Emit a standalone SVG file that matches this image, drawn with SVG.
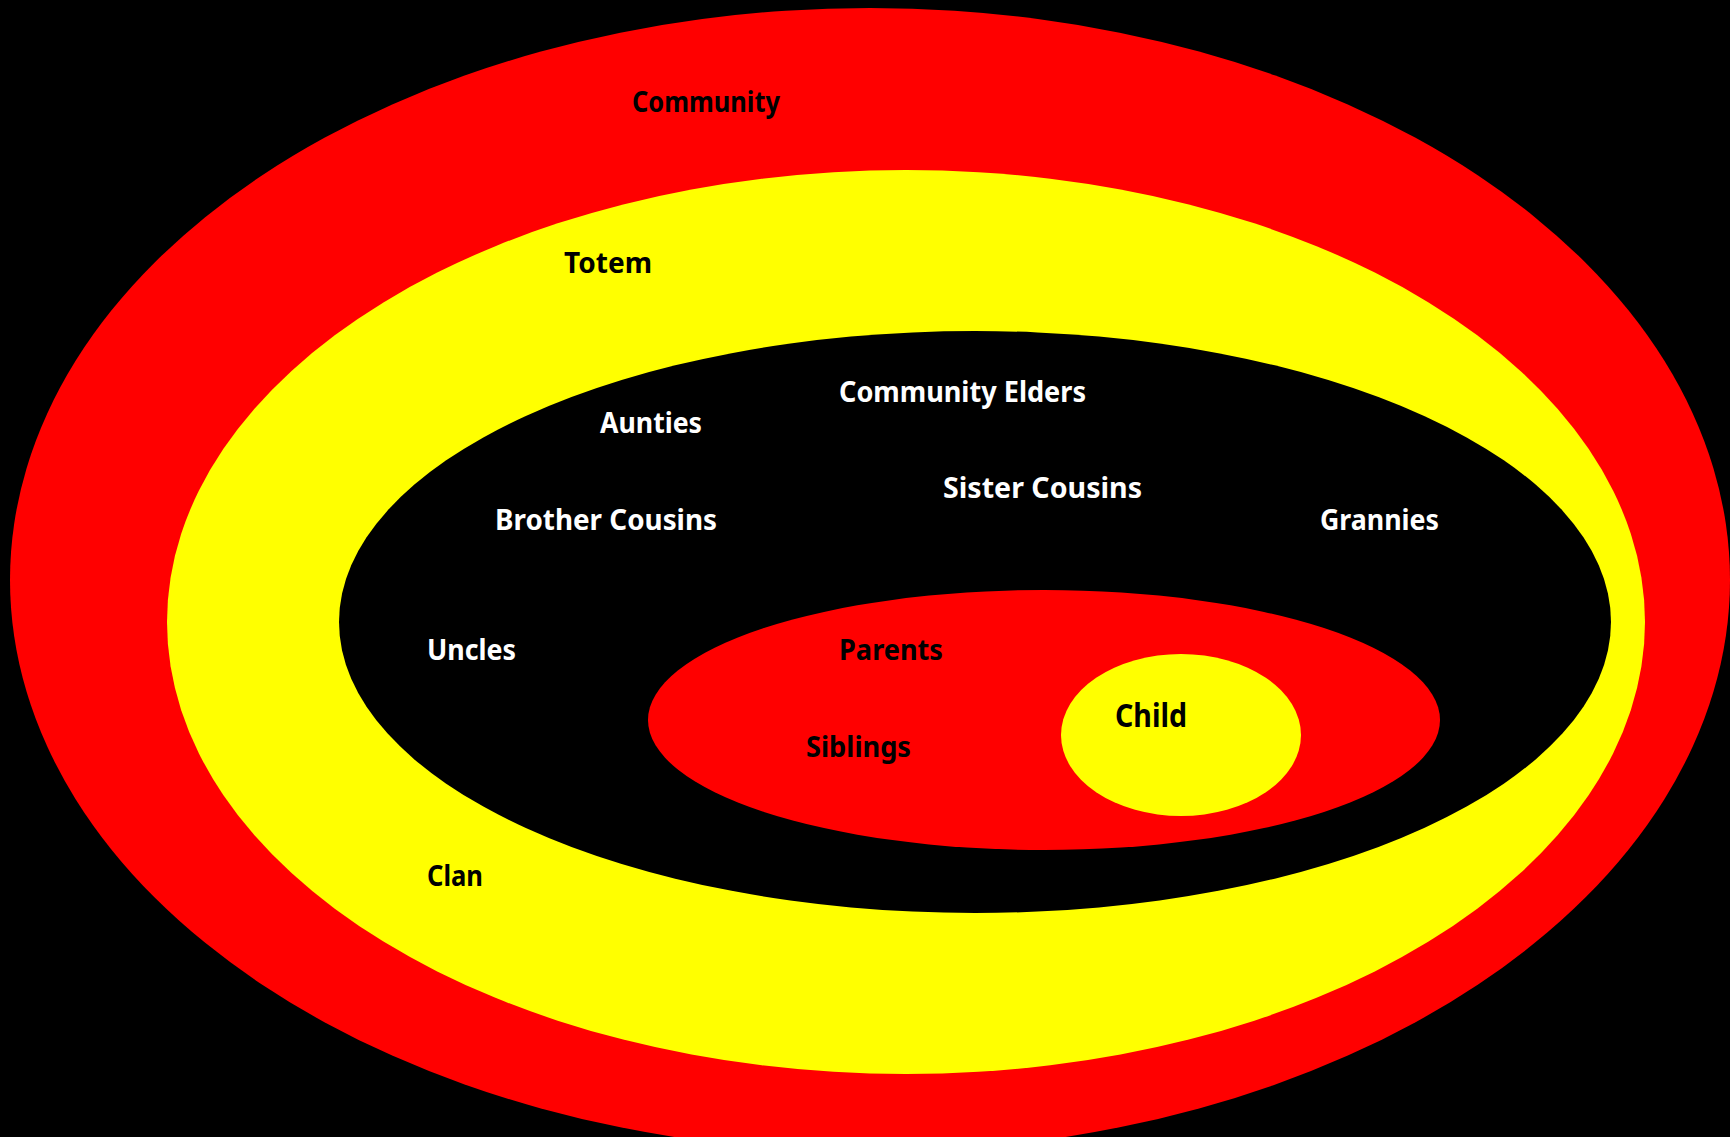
<svg xmlns="http://www.w3.org/2000/svg" width="1730" height="1137" viewBox="0 0 1730 1137">
<style>
.red{fill:#ff0000}
.yel{fill:#ffff00}
.blk{fill:#000000}
text{font-family:"Comic Sans MS","Noto Sans","DejaVu Sans",sans-serif;font-weight:bold;font-size:29px}
.dk{fill:#000000}
.wt{fill:#ffffff}
</style>
<rect x="0" y="0" width="1730" height="1137" fill="#000000"/>
<g id="community">
<ellipse class="red" cx="870" cy="580" rx="860" ry="572"/>
<text class="dk" x="632" y="112" textLength="148" lengthAdjust="spacingAndGlyphs">Community</text>
</g>
<g id="totem">
<ellipse class="yel" cx="906" cy="622" rx="739" ry="452"/>
<text class="dk" x="564" y="273" textLength="88" lengthAdjust="spacingAndGlyphs">Totem</text>
<text class="dk" x="427" y="886" textLength="56" lengthAdjust="spacingAndGlyphs">Clan</text>
</g>
<g id="extended">
<ellipse class="blk" cx="975" cy="622" rx="636" ry="291"/>
<text class="wt" x="839" y="402" textLength="247" lengthAdjust="spacingAndGlyphs">Community Elders</text>
<text class="wt" x="600" y="433" textLength="102" lengthAdjust="spacingAndGlyphs">Aunties</text>
<text class="wt" x="943" y="498" textLength="199" lengthAdjust="spacingAndGlyphs">Sister Cousins</text>
<text class="wt" x="495" y="530" textLength="222" lengthAdjust="spacingAndGlyphs">Brother Cousins</text>
<text class="wt" x="1320" y="530" textLength="119" lengthAdjust="spacingAndGlyphs">Grannies</text>
<text class="wt" x="427" y="660" textLength="89" lengthAdjust="spacingAndGlyphs">Uncles</text>
</g>
<g id="family">
<ellipse class="red" cx="1044" cy="720" rx="396" ry="130"/>
<text class="dk" x="839" y="660" textLength="104" lengthAdjust="spacingAndGlyphs">Parents</text>
<text class="dk" x="806" y="757" textLength="105" lengthAdjust="spacingAndGlyphs">Siblings</text>
</g>
<g id="child">
<ellipse class="yel" cx="1181" cy="735" rx="120" ry="81"/>
<text class="dk" x="1115" y="727" style="font-size:32px" textLength="72" lengthAdjust="spacingAndGlyphs">Child</text>
</g>
</svg>
